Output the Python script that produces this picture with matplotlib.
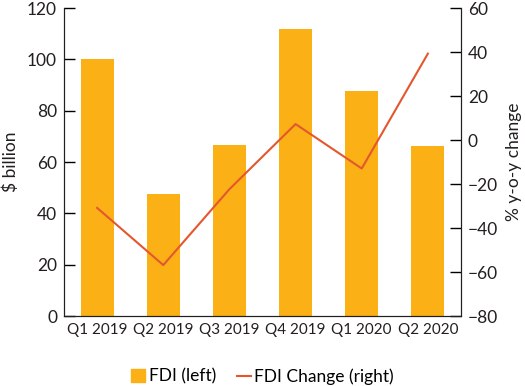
import matplotlib
matplotlib.use("Agg")
import matplotlib.pyplot as plt
from matplotlib.patches import Patch
from matplotlib.lines import Line2D

categories = ["Q1 2019", "Q2 2019", "Q3 2019", "Q4 2019", "Q1 2020", "Q2 2020"]
fdi = [100.2, 47.4, 66.7, 112.0, 87.6, 66.3]
fdi_change = [-30.8, -56.8, -22.3, 7.3, -12.9, 39.3]

bar_color = "#FBB116"
line_color = "#E4572E"
text_color = "#231f20"

plt.rcParams['font.family'] = ['Lato', 'DejaVu Sans']
fs = 12.5

fig = plt.figure(figsize=(5.25, 3.86), dpi=100)
ax = fig.add_axes([0.122, 0.181, 0.756, 0.798])
x = list(range(len(categories)))
ax.bar(x, fdi, width=0.5, color=bar_color, zorder=2)
ax.set_xlim(-0.5, 5.5)
ax.set_ylim(0, 120)
ax.set_yticks(range(0, 121, 20))
ax.set_xticks(x)
ax.set_xticklabels(categories, fontsize=11, color=text_color)
ax.tick_params(axis='x', length=0, pad=5)
ax.tick_params(axis='y', direction='in', length=8, labelsize=fs, labelcolor=text_color, width=1, pad=5)
ax.set_ylabel("$ billion", fontsize=fs, color=text_color, labelpad=6)
ax.spines['top'].set_visible(False)
for s in ['left', 'bottom', 'right']:
    ax.spines[s].set_color(text_color)

ax2 = ax.twinx()
ax2.plot(x, fdi_change, color=line_color, linewidth=1.5, zorder=3)
ax2.set_ylim(-80, 60)
ax2.set_yticks(range(-80, 61, 20))
ax2.tick_params(axis='y', direction='in', length=8, labelsize=fs, labelcolor=text_color, width=1, pad=5)
ax2.set_ylabel("% y-o-y change", fontsize=fs, color=text_color, labelpad=6)
ax2.spines['top'].set_visible(False)
for s in ['left', 'bottom', 'right']:
    ax2.spines[s].set_color(text_color)

handles = [Patch(color=bar_color, label="FDI (left)"),
           Line2D([0], [0], color=line_color, linewidth=1.5, label="FDI Change (right)")]
fig.legend(handles=handles, loc='center', bbox_to_anchor=(0.5, 0.025), ncol=2, frameon=False,
           fontsize=fs, handlelength=0.8, handletextpad=0.2, columnspacing=1.2, handleheight=0.7)

fig.savefig("out.png", dpi=100)
